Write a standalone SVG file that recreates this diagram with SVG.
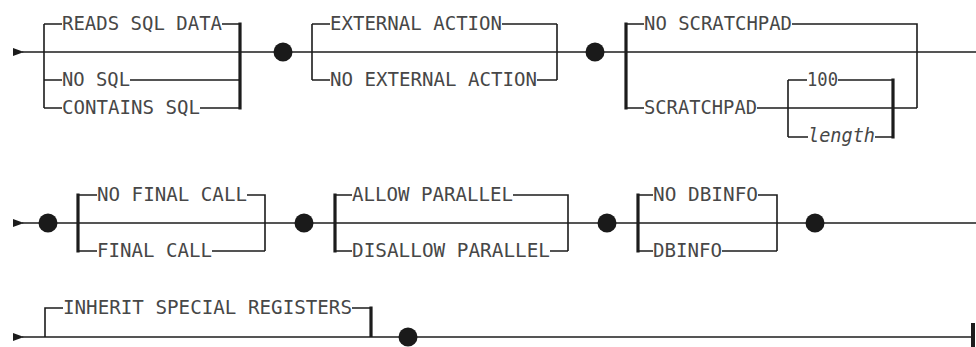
<svg xmlns="http://www.w3.org/2000/svg" width="976" height="347" viewBox="0 0 976 347">
<defs>
<style>
.ln{stroke:#1c1c1c;stroke-width:1.6;fill:none}
.tk{stroke:#1c1c1c;stroke-width:3.2;fill:none}
.t{font-family:"DejaVu Sans Mono","Liberation Mono",monospace;font-size:20px;fill:#474747}
.i{font-style:italic}
.b{fill:#1a1a1a}
.ar{fill:#1c1c1c}
</style>
</defs>
<rect width="976" height="347" fill="#ffffff"/>
<g id="connectors">
<!-- row 1 -->
<polygon class="ar" points="13,48 24,52 13,56"/>
<line class="ln" x1="22" y1="52" x2="976" y2="52"/>
<!-- bracket A -->
<path class="ln" d="M44,24 V108 M44,24 H62 M222,24 H240 M44,80 H62 M130,80 H240 M44,108 H62 M200,108 H240"/>
<line class="tk" x1="240" y1="22.5" x2="240" y2="109.5"/>
<!-- bracket B -->
<path class="ln" d="M312,24 V80 M312,24 H330 M502,24 H557 M312,80 H330 M537,80 H557 M557,24 V80"/>
<!-- bracket C -->
<line class="tk" x1="626" y1="22.5" x2="626" y2="109.5"/>
<path class="ln" d="M626,24 H644 M792,24 H917 V108 M626,108 H644 M757,108 H917"/>
<path class="ln" d="M788,80 V137 M788,80 H807 M838,80 H893 M788,137 H808 M875,137 H893"/>
<line class="tk" x1="893" y1="78.5" x2="893" y2="138.5"/>
<!-- row 2 -->
<polygon class="ar" points="13,219 24,223 13,227"/>
<line class="ln" x1="22" y1="223" x2="976" y2="223"/>
<line class="tk" x1="78" y1="193.5" x2="78" y2="252.5"/>
<path class="ln" d="M78,195 H97 M247,195 H265 V251 M78,251 H97 M212,251 H265"/>
<line class="tk" x1="335" y1="193.5" x2="335" y2="252.5"/>
<path class="ln" d="M335,195 H352 M513,195 H568 V251 M335,251 H352 M550,251 H568"/>
<line class="tk" x1="638" y1="193.5" x2="638" y2="252.5"/>
<path class="ln" d="M638,195 H653 M758,195 H777 V251 M638,251 H653 M722,251 H777"/>
<!-- row 3 -->
<polygon class="ar" points="13,333 24,337 13,341"/>
<line class="ln" x1="22" y1="337" x2="973" y2="337"/>
<path class="ln" d="M45,337 V308 H63 M352,308 H371"/>
<line class="tk" x1="371" y1="306.5" x2="371" y2="337"/>
<line x1="973" y1="323" x2="973" y2="347" stroke="#1c1c1c" stroke-width="4"/>
</g>
<g id="bullets">
<circle class="b" cx="283" cy="52" r="9.5"/>
<circle class="b" cx="595" cy="52" r="9.5"/>
<circle class="b" cx="48" cy="223" r="9.5"/>
<circle class="b" cx="304" cy="223" r="9.5"/>
<circle class="b" cx="607" cy="223" r="9.5"/>
<circle class="b" cx="815" cy="223" r="9.5"/>
<circle class="b" cx="408" cy="337" r="9.5"/>
</g>
<g id="sql-data-access">
<text class="t" x="62" y="30" textLength="160" lengthAdjust="spacingAndGlyphs">READS SQL DATA</text>
<text class="t" x="62" y="86" textLength="68" lengthAdjust="spacingAndGlyphs">NO SQL</text>
<text class="t" x="62" y="114" textLength="138" lengthAdjust="spacingAndGlyphs">CONTAINS SQL</text>
</g>
<g id="external-action">
<text class="t" x="330" y="30" textLength="172" lengthAdjust="spacingAndGlyphs">EXTERNAL ACTION</text>
<text class="t" x="330" y="86" textLength="207" lengthAdjust="spacingAndGlyphs">NO EXTERNAL ACTION</text>
</g>
<g id="scratchpad">
<text class="t" x="644" y="30" textLength="148" lengthAdjust="spacingAndGlyphs">NO SCRATCHPAD</text>
<text class="t" x="644" y="114" textLength="113" lengthAdjust="spacingAndGlyphs">SCRATCHPAD</text>
<text class="t" x="807" y="86" textLength="31" lengthAdjust="spacingAndGlyphs">100</text>
<text class="t i" x="808" y="142" textLength="67" lengthAdjust="spacingAndGlyphs">length</text>
</g>
<g id="final-call">
<text class="t" x="97" y="201" textLength="150" lengthAdjust="spacingAndGlyphs">NO FINAL CALL</text>
<text class="t" x="97" y="257" textLength="115" lengthAdjust="spacingAndGlyphs">FINAL CALL</text>
</g>
<g id="parallel">
<text class="t" x="352" y="201" textLength="161" lengthAdjust="spacingAndGlyphs">ALLOW PARALLEL</text>
<text class="t" x="352" y="257" textLength="198" lengthAdjust="spacingAndGlyphs">DISALLOW PARALLEL</text>
</g>
<g id="dbinfo">
<text class="t" x="653" y="201" textLength="105" lengthAdjust="spacingAndGlyphs">NO DBINFO</text>
<text class="t" x="653" y="257" textLength="69" lengthAdjust="spacingAndGlyphs">DBINFO</text>
</g>
<g id="special-registers">
<text class="t" x="63" y="314" textLength="289" lengthAdjust="spacingAndGlyphs">INHERIT SPECIAL REGISTERS</text>
</g>
</svg>
